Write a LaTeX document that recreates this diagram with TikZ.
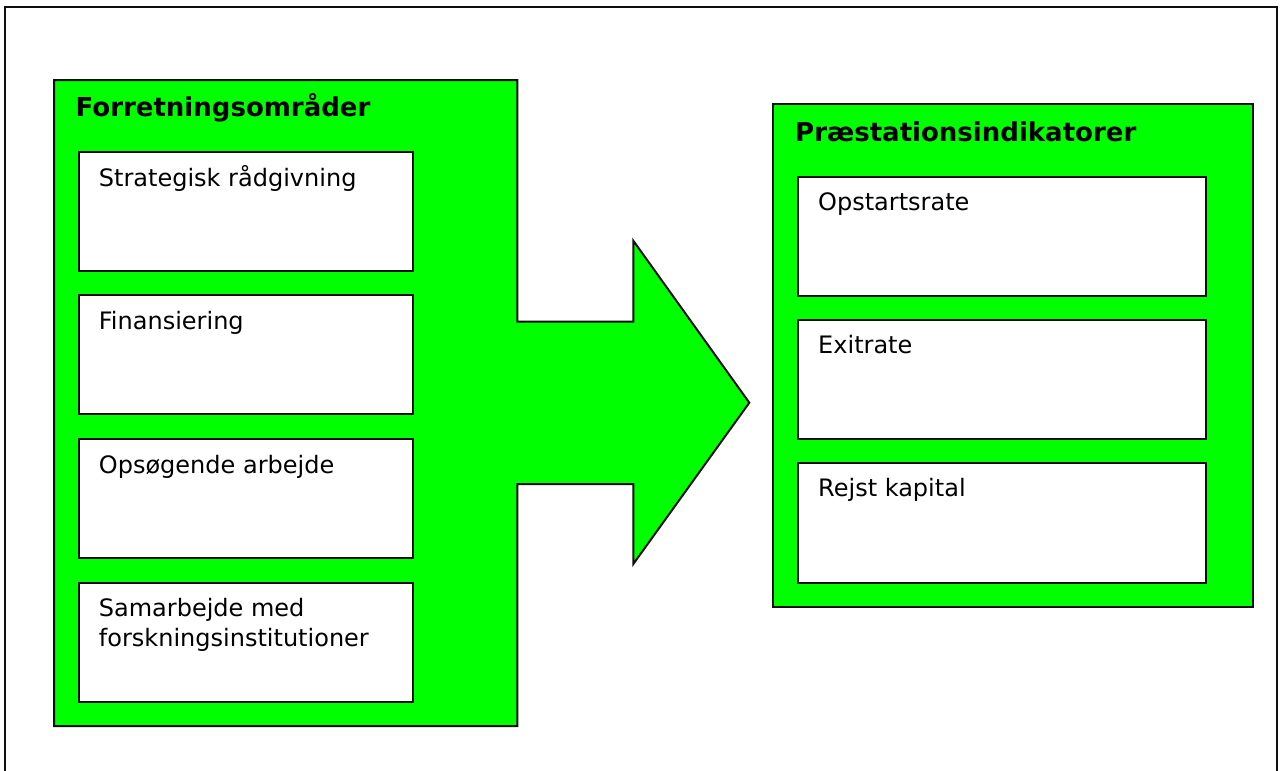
\documentclass[tikz,border=0pt]{standalone}
\usepackage{fontspec}
\setmainfont{DejaVu Sans}
\definecolor{brightgreen}{RGB}{0,255,0}
\definecolor{edge}{RGB}{15,15,15}
\tikzset{
  frameline/.style={draw=edge, line width=1.8pt},
  greenarea/.style={draw=edge, fill=brightgreen, line width=2pt, line join=miter},
  whitebox/.style={draw=edge, fill=white, line width=2pt, anchor=north west, inner sep=0pt, outer sep=0pt},
  titletext/.style={anchor=base west, inner sep=0pt, font=\fontsize{26}{31}\selectfont\bfseries},
  itemtext/.style={anchor=base west, inner sep=0pt, align=left, font=\fontsize{24}{29.3}\selectfont}
}
\begin{document}
\begin{tikzpicture}[x=1pt, y=-1pt]
\useasboundingbox (0,0) rectangle (1283,771);
% outer frame (open at the bottom)
\draw[frameline] (4.7,771) -- (4.7,6.7) -- (1277.3,6.7) -- (1277.3,771);
% left area merged with the big arrow
\path[greenarea] (54,80) -- (517.3,80) -- (517.3,321.7) -- (633.3,321.7) -- (633.3,240.7)
  -- (749.3,402.7) -- (633.3,564) -- (633.3,484) -- (517.3,484) -- (517.3,726) -- (54,726) -- cycle;
% right area
\node[greenarea, anchor=north west, inner sep=0pt, outer sep=0pt, minimum width=479.4pt, minimum height=502.7pt] (right) at (773.3,104) {};
% titles
\node[titletext] (ltitle) at (75.5,116.7) {Forretningsområder};
\node[titletext] (rtitle) at (795,141.7) {Præstationsindikatorer};
% left boxes
\node[whitebox, minimum width=334.6pt, minimum height=119pt] (l1) at (78.7,151.7) {};
\node[whitebox, minimum width=334.6pt, minimum height=119pt] (l2) at (78.7,295.3) {};
\node[whitebox, minimum width=334.6pt, minimum height=119pt] (l3) at (78.7,439) {};
\node[whitebox, minimum width=334.6pt, minimum height=119.6pt] (l4) at (78.7,582.7) {};
% right boxes
\node[whitebox, minimum width=408pt, minimum height=119.3pt] (r1) at (797.7,176.7) {};
\node[whitebox, minimum width=408pt, minimum height=119.3pt] (r2) at (797.7,320) {};
\node[whitebox, minimum width=408pt, minimum height=119.4pt] (r3) at (797.7,463.3) {};
% texts
\node[itemtext] (t1) at (98.7,186) {Strategisk rådgivning};
\node[itemtext] (t2) at (98.7,329.6) {Finansiering};
\node[itemtext] (t3) at (98.7,473.3) {Opsøgende arbejde};
\node[itemtext] (t4) at (98.7,646) {Samarbejde med\\forskningsinstitutioner};
\node[itemtext] (u1) at (818,210) {Opstartsrate};
\node[itemtext] (u2) at (818,353.3) {Exitrate};
\node[itemtext] (u3) at (818,496.7) {Rejst kapital};
\end{tikzpicture}
\end{document}
